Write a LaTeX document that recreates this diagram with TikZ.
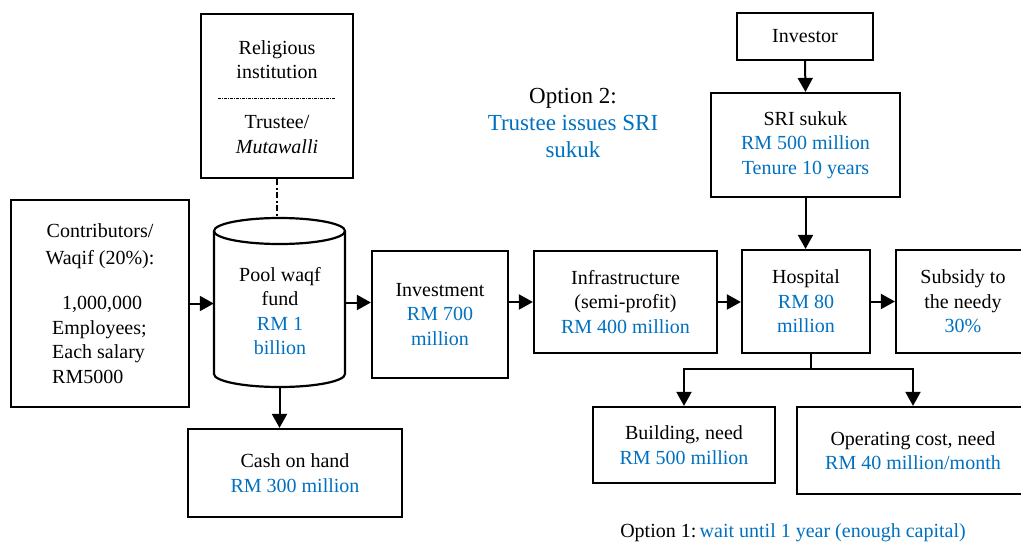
\documentclass[tikz,border=0pt]{standalone}
\usepackage{fontspec}
\setmainfont{Liberation Serif}
\usetikzlibrary{arrows.meta}
\definecolor{rmblue}{HTML}{0070C0}
\newcommand{\val}[1]{\textcolor{rmblue}{#1}}
\tikzset{
  box/.style={draw, line width=2.2pt, align=center, inner sep=0pt},
  txt/.style={align=center, inner sep=0pt},
  arr/.style={line width=2pt, -{Triangle[length=14pt,width=15pt]}},
  dashdot link/.style={line width=2pt, dash pattern=on 6pt off 2.5pt on 2pt off 2.5pt},
}
\begin{document}
\begin{tikzpicture}[x=1pt, y=-1pt, font=\fontsize{20}{24.5}\selectfont]
\useasboundingbox (0,0) rectangle (1021,543);
\clip (0,0) rectangle (1021,543);

% trustee box with its inner divider
\node[box, minimum width=152pt, minimum height=164pt] (relig) at (277,96) {};
\node[txt] (religtop) at (277,59.5) {Religious\\institution};
\node[txt] (religbot) at (277,134.5) {Trustee/\\\textit{Mutawalli}};
\draw[line width=1pt, dash pattern=on 3pt off 1pt on 1pt off 1pt] (218,99) -- (335,99);

% contributors
\node[box, minimum width=178pt, minimum height=207pt] (contrib) at (100,303.5) {};
\node[txt, font=\fontsize{20}{27}\selectfont] (contribtop) at (100,246) {Contributors/\\Waqif (20\%):};
\node[txt, align=left, anchor=north west] (contribbot) at (52,296) {\hspace{10pt}1,000,000\\Employees;\\Each salary\\RM5000};

% pool fund cylinder
\node[minimum width=131pt, minimum height=169pt, inner sep=0pt] (pool) at (279.5,302.5) {};
\draw[line width=2.2pt] (214,231) -- (214,374) arc[start angle=180, end angle=0, x radius=65.5, y radius=13] -- (345,231);
\draw[line width=2.2pt] (279.5,231) ellipse[x radius=65.5, y radius=13];
\node[txt] (pooltext) at (280,311) {Pool waqf\\fund\\\val{RM 1}\\\val{billion}};

% cash, investment chain
\node[box, minimum width=214pt, minimum height=88pt] (cash) at (295,473) {Cash on hand\\\val{RM 300 million}};
\node[box, minimum width=136pt, minimum height=127pt] (invest) at (440,314.5) {Investment\\\val{RM 700}\\\val{million}};
\node[box, minimum width=183pt, minimum height=102pt] (infra) at (625.5,302) {Infrastructure\\(semi-profit)\\\val{RM 400 million}};
\node[box, minimum width=128pt, minimum height=103pt] (hosp) at (806,301.5) {Hospital\\\val{RM 80}\\\val{million}};
\node[box, minimum width=134pt, minimum height=103pt] (subsidy) at (963,301.5) {Subsidy to\\the needy\\\val{30\%}};

% sukuk issuance
\node[box, minimum width=136pt, minimum height=47pt] (investor) at (805,36.5) {Investor};
\node[box, minimum width=189pt, minimum height=104pt] (sri) at (805.5,145) {SRI sukuk\\\val{RM 500 million}\\\val{Tenure 10 years}};

% hospital needs
\node[box, minimum width=182pt, minimum height=76pt] (building) at (684,445) {Building, need\\\val{RM 500 million}};
\node[box, minimum width=232pt, minimum height=87pt] (operating) at (913,450.5) {Operating cost, need\\\val{RM 40 million/month}};

% option captions
\node[txt, font=\fontsize{23}{27}\selectfont] (opt2) at (573,123) {Option 2:\\\val{Trustee issues SRI}\\\val{sukuk}};
\node[txt] (opt1) at (793,533) {Option 1:\,\val{wait until 1 year (enough capital)}};

% connectors
\draw[dashdot link] (relig.south) -- (relig.south |- pool.north);
\draw[arr] (contrib.east) -- (contrib.east -| pool.west);
\draw[arr] (pool.east) -- (pool.east -| invest.west);
\draw[arr] (pool.south) -- (pool.south |- cash.north);
\draw[arr] (infra.west -| invest.east) -- (infra.west);
\draw[arr] (infra.east) -- (infra.east -| hosp.west);
\draw[arr] (hosp.east) -- (hosp.east -| subsidy.west);
\draw[arr] (investor.south) -- (sri.north);
\draw[arr] (sri.south) -- (sri.south |- hosp.north);
\coordinate (hub) at (811,369);
\draw[line width=2pt] (hub |- hosp.south) -- (hub);
\draw[arr] (hub) -| (building.north);
\draw[arr] (hub) -| (operating.north);
\end{tikzpicture}
\end{document}
